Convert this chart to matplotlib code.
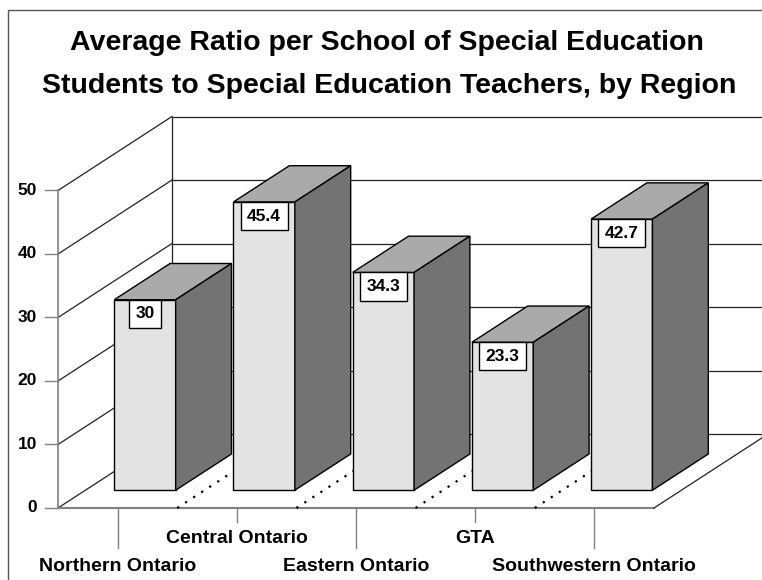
import numpy as np
import matplotlib.pyplot as plt
from matplotlib.patches import Polygon, Rectangle

plt.rcParams['font.family'] = ['Liberation Sans', 'DejaVu Sans']
plt.rcParams['font.weight'] = 'bold'

regions = ['Northern Ontario', 'Central Ontario', 'Eastern Ontario', 'GTA', 'Southwestern Ontario']
ratios = [30, 45.4, 34.3, 23.3, 42.7]
value_labels = ['30', '45.4', '34.3', '23.3', '42.7']
y_ticks = [0, 10, 20, 30, 40, 50]

title1 = 'Average Ratio per School of Special Education'
title2 = 'Students to Special Education Teachers, by Region'

# oblique depth vector, in (category units, value units)
DX, DY = 0.956, 11.65
bar_w = 0.515
f0, f1 = 0.24, 0.73   # front / back depth of the bars

front_col = '#e3e3e3'
top_col = '#aaaaaa'
side_col = '#737373'
axis_col = '#808080'


def proj(x, v, f):
    return x + f * DX, v + f * DY


fig = plt.figure(figsize=(7.62, 5.8), dpi=100)
ax = fig.add_axes([0, 0, 1, 1])
ax.set_xlim(-0.4866, 5.906)
ax.set_ylim(-11.34, 80.0)
ax.axis('off')

n = len(regions)
ymax = y_ticks[-1]

# Step 1: walls and gridlines
for v in y_ticks:
    p0, p1 = proj(0, v, 0), proj(0, v, 1)
    ax.plot([p0[0], p1[0]], [p0[1], p1[1]], color='#222222', lw=0.9)
    q0, q1 = proj(0, v, 1), proj(n + 1, v, 1)
    ax.plot([q0[0], q1[0]], [q0[1], q1[1]], color='#222222', lw=0.9)
    ax.plot([-0.109, 0], [v, v], color=axis_col, lw=1)
    ax.text(-0.176, v, str(v), ha='right', va='center', fontsize=12.5)

b0, b1 = proj(0, 0, 1), proj(0, ymax, 1)
ax.plot([b0[0], b1[0]], [b0[1], b1[1]], color='#222222', lw=0.9)
ax.plot([0, 0], [0, ymax], color=axis_col, lw=1.2)

# floor
ax.plot([0, n], [0, 0], color=axis_col, lw=1.5)
r0, r1 = proj(n, 0, 0), proj(n, 0, 1)
ax.plot([r0[0], r1[0]], [r0[1], r1[1]], color='#222222', lw=0.9)
for b in range(1, n):
    d0, d1 = proj(b, 0, 0), proj(b, 0, 1)
    ax.plot([d0[0], d1[0]], [d0[1], d1[1]], color='black', lw=1.6,
            linestyle=(0, (1, 3.3)))

# category ticks and staggered labels
for i, name in enumerate(regions):
    c = i + 0.5
    if i % 2 == 0:
        ax.plot([c, c], [0, -6.3], color=axis_col, lw=1)
        ax.text(c, -9.9, name, ha='center', va='baseline', fontsize=14)
    else:
        ax.plot([c, c], [0, -2.2], color=axis_col, lw=1)
        ax.text(c, -5.5, name, ha='center', va='baseline', fontsize=14)

# Step 2: the bars, left to right
for i, v in enumerate(ratios):
    x0, x1 = i + 0.5 - bar_w / 2, i + 0.5 + bar_w / 2
    front = [proj(x0, 0, f0), proj(x1, 0, f0), proj(x1, v, f0), proj(x0, v, f0)]
    top = [proj(x0, v, f0), proj(x1, v, f0), proj(x1, v, f1), proj(x0, v, f1)]
    side = [proj(x1, 0, f0), proj(x1, 0, f1), proj(x1, v, f1), proj(x1, v, f0)]
    for pts, col in [(front, front_col), (top, top_col), (side, side_col)]:
        ax.add_patch(Polygon(pts, closed=True, fc=col, ec='black', lw=1, zorder=3))
    lx, ly = proj(i + 0.5, v, f0)
    ax.annotate(value_labels[i], xy=(lx, ly), xytext=(0, -4.75), textcoords='offset points',
                ha='center', va='top', fontsize=12.5, zorder=5,
                bbox=dict(boxstyle='square,pad=0.38', fc='white', ec='black', lw=1))

# title and outer frame
fig.text(0.508, 1 - 50 / 580, title1, ha='center', va='baseline', fontsize=20.5)
fig.text(0.511, 1 - 93 / 580, title2, ha='center', va='baseline', fontsize=20.5)
fig.add_artist(Rectangle((8 / 762, -0.05), 1.0, 1.05 - 10 / 580, transform=fig.transFigure,
                         fill=False, ec='#555555', lw=1))

fig.savefig('out.png', dpi=100)
